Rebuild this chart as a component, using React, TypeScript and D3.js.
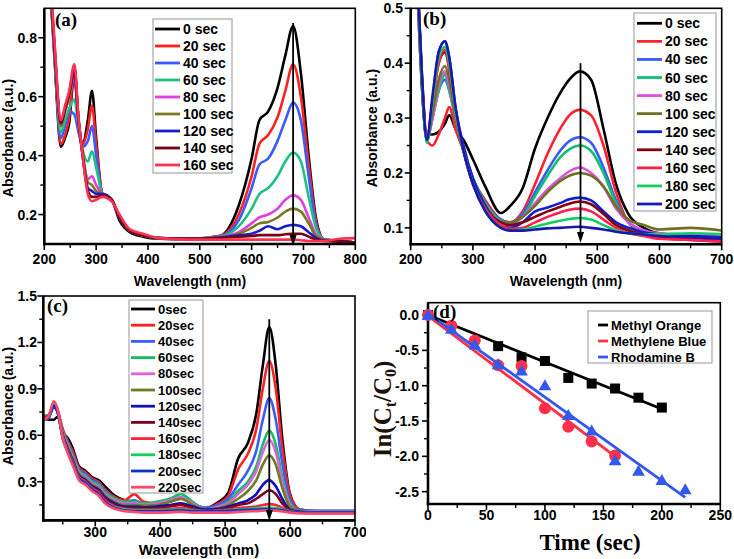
import React from 'react';
import * as d3 from 'd3';

// ---------------- Panel (a) data ----------------
const aWave = [212, 220, 232, 240, 248, 258, 266, 274, 284, 292, 300, 312, 330, 345, 365, 390, 420, 480, 540, 575, 600, 615, 632, 650, 665, 680, 695, 710, 725, 740, 770, 800];
const a0 = [0.95, 0.72, 0.43, 0.46, 0.51, 0.68, 0.50, 0.44, 0.52, 0.62, 0.46, 0.27, 0.25, 0.18, 0.14, 0.125, 0.118, 0.116, 0.128, 0.23, 0.39, 0.52, 0.55, 0.63, 0.74, 0.84, 0.68, 0.40, 0.18, 0.115, 0.11, 0.105];
const a20 = [0.97, 0.74, 0.44, 0.47, 0.53, 0.70, 0.52, 0.44, 0.49, 0.57, 0.44, 0.27, 0.25, 0.19, 0.145, 0.13, 0.12, 0.118, 0.128, 0.2, 0.33, 0.44, 0.47, 0.53, 0.62, 0.71, 0.6, 0.37, 0.17, 0.115, 0.11, 0.105];
const a40 = [0.96, 0.73, 0.46, 0.5, 0.55, 0.54, 0.48, 0.43, 0.45, 0.50, 0.40, 0.27, 0.25, 0.19, 0.145, 0.13, 0.12, 0.118, 0.126, 0.18, 0.29, 0.37, 0.39, 0.45, 0.52, 0.58, 0.52, 0.33, 0.16, 0.115, 0.11, 0.105];
const a60 = [0.96, 0.74, 0.48, 0.52, 0.56, 0.59, 0.50, 0.42, 0.38, 0.415, 0.36, 0.27, 0.25, 0.19, 0.145, 0.13, 0.12, 0.118, 0.125, 0.16, 0.22, 0.27, 0.29, 0.33, 0.38, 0.41, 0.38, 0.26, 0.15, 0.115, 0.11, 0.105];
const a80 = [0.97, 0.75, 0.5, 0.55, 0.6, 0.66, 0.52, 0.41, 0.32, 0.33, 0.3, 0.27, 0.25, 0.19, 0.145, 0.13, 0.12, 0.118, 0.124, 0.14, 0.17, 0.19, 0.2, 0.22, 0.25, 0.265, 0.25, 0.19, 0.13, 0.115, 0.11, 0.105];
const a100 = [0.97, 0.75, 0.5, 0.55, 0.6, 0.67, 0.52, 0.41, 0.31, 0.30, 0.28, 0.27, 0.25, 0.19, 0.145, 0.13, 0.12, 0.118, 0.123, 0.135, 0.155, 0.17, 0.175, 0.19, 0.21, 0.22, 0.21, 0.17, 0.125, 0.115, 0.11, 0.105];
const a120 = [0.98, 0.76, 0.51, 0.56, 0.61, 0.68, 0.52, 0.40, 0.29, 0.28, 0.27, 0.27, 0.25, 0.19, 0.145, 0.13, 0.12, 0.118, 0.122, 0.13, 0.135, 0.145, 0.16, 0.15, 0.16, 0.165, 0.16, 0.14, 0.12, 0.112, 0.11, 0.105];
const a140 = [0.98, 0.76, 0.51, 0.56, 0.61, 0.70, 0.52, 0.40, 0.28, 0.26, 0.26, 0.265, 0.25, 0.19, 0.145, 0.13, 0.12, 0.118, 0.12, 0.125, 0.127, 0.13, 0.13, 0.13, 0.133, 0.135, 0.135, 0.125, 0.115, 0.11, 0.108, 0.105];
const a160 = [1.0, 0.78, 0.52, 0.57, 0.62, 0.71, 0.53, 0.40, 0.27, 0.245, 0.25, 0.26, 0.245, 0.2, 0.15, 0.135, 0.12, 0.115, 0.115, 0.115, 0.115, 0.115, 0.115, 0.115, 0.115, 0.115, 0.113, 0.11, 0.11, 0.11, 0.118, 0.12];
const aSeries = [a0, a20, a40, a60, a80, a100, a120, a140, a160];
const aLabels = ['0 sec', '20 sec', '40 sec', '60 sec', '80 sec', '100 sec', '120 sec', '140 sec', '160 sec'];
const aColors = ['#000000', '#ff2020', '#3a5cff', '#20c080', '#e040e0', '#7a7a20', '#1a1ad0', '#7a0010', '#ff3050'];
const aXTicks = [200, 300, 400, 500, 600, 700, 800];
const aXMinor = [250, 350, 450, 550, 650, 750];
const aYTicks = [0.2, 0.4, 0.6, 0.8];
const aYMinor = [0.3, 0.5, 0.7];
const aArrowAt = 680;
const aArrowFrom = 0.85;

// ---------------- Panel (b) data ----------------
const bWave = [212, 218, 226, 235, 245, 255, 262, 272, 285, 300, 320, 345, 360, 380, 400, 420, 440, 455, 472, 490, 510, 530, 550, 575, 600, 650, 700];
const b0 = [0.52, 0.38, 0.27, 0.27, 0.275, 0.29, 0.305, 0.28, 0.26, 0.225, 0.175, 0.127, 0.14, 0.172, 0.245, 0.30, 0.345, 0.37, 0.385, 0.37, 0.28, 0.18, 0.125, 0.1, 0.09, 0.085, 0.082];
const b20 = [0.52, 0.36, 0.26, 0.25, 0.27, 0.30, 0.32, 0.28, 0.24, 0.19, 0.15, 0.115, 0.11, 0.13, 0.18, 0.235, 0.28, 0.305, 0.315, 0.305, 0.25, 0.165, 0.11, 0.09, 0.085, 0.08, 0.078];
const b40 = [0.5, 0.36, 0.265, 0.3, 0.35, 0.37, 0.35, 0.3, 0.24, 0.19, 0.145, 0.115, 0.11, 0.125, 0.165, 0.205, 0.24, 0.258, 0.265, 0.255, 0.21, 0.15, 0.11, 0.095, 0.088, 0.085, 0.082];
const b60 = [0.5, 0.36, 0.26, 0.3, 0.35, 0.38, 0.35, 0.3, 0.24, 0.19, 0.145, 0.112, 0.108, 0.12, 0.158, 0.195, 0.228, 0.243, 0.25, 0.24, 0.2, 0.145, 0.11, 0.095, 0.088, 0.088, 0.085];
const b80 = [0.5, 0.36, 0.26, 0.3, 0.36, 0.385, 0.36, 0.3, 0.24, 0.185, 0.14, 0.11, 0.108, 0.12, 0.145, 0.17, 0.19, 0.203, 0.21, 0.2, 0.175, 0.135, 0.11, 0.095, 0.09, 0.088, 0.085];
const b100 = [0.5, 0.36, 0.26, 0.31, 0.37, 0.395, 0.37, 0.3, 0.24, 0.185, 0.14, 0.11, 0.11, 0.12, 0.14, 0.165, 0.185, 0.195, 0.2, 0.195, 0.175, 0.14, 0.115, 0.105, 0.097, 0.1, 0.095];
const b120 = [0.52, 0.37, 0.26, 0.33, 0.42, 0.44, 0.41, 0.32, 0.25, 0.19, 0.14, 0.105, 0.1, 0.11, 0.13, 0.137, 0.145, 0.152, 0.155, 0.15, 0.13, 0.11, 0.1, 0.092, 0.088, 0.085, 0.083];
const b140 = [0.52, 0.37, 0.26, 0.33, 0.4, 0.42, 0.39, 0.31, 0.24, 0.18, 0.135, 0.11, 0.105, 0.11, 0.12, 0.13, 0.138, 0.144, 0.148, 0.143, 0.125, 0.105, 0.095, 0.088, 0.082, 0.078, 0.075];
const b160 = [0.52, 0.37, 0.26, 0.33, 0.4, 0.425, 0.39, 0.31, 0.24, 0.18, 0.135, 0.105, 0.098, 0.1, 0.11, 0.12, 0.128, 0.133, 0.135, 0.13, 0.115, 0.1, 0.09, 0.085, 0.08, 0.078, 0.075];
const b180 = [0.52, 0.37, 0.255, 0.33, 0.41, 0.43, 0.4, 0.31, 0.24, 0.18, 0.13, 0.1, 0.095, 0.097, 0.102, 0.108, 0.113, 0.116, 0.118, 0.115, 0.105, 0.095, 0.09, 0.088, 0.088, 0.09, 0.088];
const b200 = [0.53, 0.38, 0.26, 0.34, 0.42, 0.44, 0.41, 0.32, 0.24, 0.18, 0.13, 0.1, 0.095, 0.095, 0.097, 0.099, 0.1, 0.101, 0.102, 0.1, 0.097, 0.093, 0.09, 0.088, 0.085, 0.083, 0.08];
const bSeries = [b0, b20, b40, b60, b80, b100, b120, b140, b160, b180, b200];
const bLabels = ['0 sec', '20 sec', '40 sec', '60 sec', '80 sec', '100 sec', '120 sec', '140 sec', '160 sec', '180 sec', '200 sec'];
const bColors = ['#000000', '#ff2030', '#3a5cff', '#10c070', '#e050e0', '#707020', '#1020d0', '#800010', '#ff2050', '#10d060', '#1818b0'];
const bXTicks = [200, 300, 400, 500, 600, 700];
const bXMinor = [250, 350, 450, 550, 650];
const bYTicks = [0.1, 0.2, 0.3, 0.4, 0.5];
const bYMinor = [0.15, 0.25, 0.35, 0.45];
const bArrowAt = 473;
const bArrowFrom = 0.4;

// ---------------- Panel (c) data ----------------
const cWave = [220, 228, 236, 242, 250, 258, 265, 275, 285, 295, 305, 315, 330, 345, 360, 375, 395, 415, 432, 450, 470, 490, 505, 520, 535, 548, 558, 568, 578, 588, 600, 615, 640, 700];
const c0 = [0.72, 0.70, 0.70, 0.72, 0.62, 0.58, 0.52, 0.40, 0.37, 0.33, 0.31, 0.27, 0.21, 0.18, 0.17, 0.15, 0.14, 0.145, 0.155, 0.14, 0.13, 0.17, 0.23, 0.45, 0.55, 0.74, 1.05, 1.30, 1.05, 0.58, 0.22, 0.12, 0.11, 0.11];
const c20 = [0.73, 0.72, 0.78, 0.76, 0.64, 0.56, 0.50, 0.39, 0.36, 0.32, 0.30, 0.25, 0.20, 0.18, 0.22, 0.17, 0.16, 0.17, 0.19, 0.16, 0.13, 0.16, 0.21, 0.38, 0.48, 0.64, 0.90, 1.08, 0.90, 0.52, 0.21, 0.12, 0.11, 0.11];
const c40 = [0.72, 0.72, 0.78, 0.76, 0.62, 0.55, 0.48, 0.38, 0.35, 0.31, 0.29, 0.24, 0.19, 0.17, 0.18, 0.16, 0.16, 0.18, 0.20, 0.16, 0.13, 0.15, 0.19, 0.28, 0.37, 0.50, 0.70, 0.84, 0.70, 0.42, 0.18, 0.115, 0.11, 0.11];
const c60 = [0.72, 0.73, 0.80, 0.76, 0.62, 0.54, 0.47, 0.37, 0.34, 0.30, 0.28, 0.23, 0.19, 0.17, 0.17, 0.16, 0.17, 0.19, 0.22, 0.17, 0.12, 0.14, 0.17, 0.24, 0.30, 0.40, 0.54, 0.63, 0.54, 0.33, 0.16, 0.11, 0.105, 0.105];
const c80 = [0.72, 0.73, 0.80, 0.76, 0.61, 0.53, 0.46, 0.36, 0.33, 0.29, 0.27, 0.22, 0.18, 0.16, 0.16, 0.15, 0.16, 0.18, 0.20, 0.16, 0.12, 0.14, 0.16, 0.22, 0.28, 0.37, 0.49, 0.57, 0.49, 0.30, 0.15, 0.11, 0.105, 0.105];
const c100 = [0.72, 0.73, 0.80, 0.76, 0.60, 0.52, 0.45, 0.35, 0.32, 0.28, 0.26, 0.21, 0.17, 0.15, 0.15, 0.145, 0.15, 0.17, 0.19, 0.15, 0.12, 0.13, 0.15, 0.19, 0.24, 0.31, 0.41, 0.47, 0.41, 0.26, 0.14, 0.11, 0.10, 0.10];
const c120 = [0.71, 0.72, 0.79, 0.75, 0.60, 0.51, 0.44, 0.34, 0.31, 0.27, 0.25, 0.20, 0.16, 0.14, 0.14, 0.135, 0.14, 0.15, 0.16, 0.14, 0.12, 0.125, 0.14, 0.16, 0.18, 0.22, 0.28, 0.31, 0.27, 0.19, 0.12, 0.105, 0.10, 0.10];
const c140 = [0.71, 0.72, 0.79, 0.75, 0.59, 0.50, 0.43, 0.33, 0.30, 0.26, 0.24, 0.19, 0.15, 0.13, 0.13, 0.13, 0.13, 0.14, 0.15, 0.13, 0.11, 0.12, 0.13, 0.15, 0.16, 0.19, 0.22, 0.245, 0.22, 0.16, 0.115, 0.10, 0.10, 0.10];
const c160 = [0.71, 0.72, 0.80, 0.76, 0.59, 0.50, 0.43, 0.33, 0.30, 0.26, 0.23, 0.18, 0.14, 0.125, 0.12, 0.12, 0.12, 0.125, 0.13, 0.12, 0.11, 0.115, 0.12, 0.13, 0.135, 0.14, 0.15, 0.155, 0.15, 0.13, 0.11, 0.10, 0.095, 0.095];
const c180 = [0.70, 0.71, 0.80, 0.76, 0.58, 0.49, 0.42, 0.32, 0.29, 0.25, 0.22, 0.17, 0.135, 0.12, 0.115, 0.115, 0.115, 0.118, 0.12, 0.115, 0.11, 0.112, 0.115, 0.12, 0.125, 0.128, 0.13, 0.132, 0.13, 0.12, 0.108, 0.10, 0.10, 0.10];
const c200 = [0.70, 0.71, 0.79, 0.75, 0.58, 0.49, 0.42, 0.32, 0.29, 0.25, 0.22, 0.17, 0.13, 0.115, 0.11, 0.11, 0.11, 0.112, 0.115, 0.11, 0.11, 0.11, 0.112, 0.115, 0.118, 0.12, 0.122, 0.123, 0.12, 0.115, 0.105, 0.10, 0.10, 0.10];
const c220 = [0.70, 0.72, 0.82, 0.77, 0.58, 0.48, 0.41, 0.31, 0.28, 0.24, 0.21, 0.16, 0.125, 0.11, 0.105, 0.10, 0.10, 0.102, 0.105, 0.10, 0.10, 0.10, 0.10, 0.105, 0.108, 0.11, 0.113, 0.115, 0.113, 0.108, 0.10, 0.095, 0.095, 0.095];
const cSeries = [c0, c20, c40, c60, c80, c100, c120, c140, c160, c180, c200, c220];
const cLabels = ['0sec', '20sec', '40sec', '60sec', '80sec', '100sec', '120sec', '140sec', '160sec', '180sec', '200sec', '220sec'];
const cColors = ['#000000', '#ff2020', '#3a5cff', '#10c060', '#e060e0', '#6a8020', '#1010c0', '#800020', '#ff2040', '#10d060', '#1030d0', '#ff4a6a'];
const cXTicks = [300, 400, 500, 600, 700];
const cXMinor = [250, 350, 450, 550, 650];
const cYTicks = [0.3, 0.6, 0.9, 1.2, 1.5];
const cYMinor = [0.15, 0.45, 0.75, 1.05, 1.35];
const cArrowAt = 568;
const cArrowFrom = 1.35;

// ---------------- Panel (d) data ----------------
const moTime = [0, 60, 80, 100, 120, 140, 160, 180, 200];
const moVal = [0, -0.44, -0.6, -0.65, -0.89, -0.97, -1.04, -1.17, -1.31];
const mbTime = [0, 20, 40, 60, 80, 100, 120, 140, 160];
const mbVal = [0, -0.15, -0.36, -0.71, -0.72, -1.32, -1.58, -1.79, -1.99];
const rbTime = [0, 20, 40, 60, 80, 100, 120, 140, 160, 180, 200, 220];
const rbVal = [0, -0.2, -0.42, -0.7, -0.79, -1.0, -1.42, -1.64, -2.06, -2.21, -2.34, -2.47];
const moFitT = [0, 200];
const moFitV = [0.0, -1.33];
const mbFitT = [0, 160];
const mbFitV = [-0.01, -2.0];
const rbFitT = [0, 220];
const rbFitV = [0.02, -2.58];
const dLabels = ['Methyl Orange', 'Methylene Blue', 'Rhodamine B'];
const dColors = ['#000000', '#ff3048', '#3358ee'];
const dXTicks = [0, 50, 100, 150, 200, 250];
const dXMinor = [25, 75, 125, 175, 225];
const dYTicks = [0, -0.5, -1.0, -1.5, -2.0, -2.5];
const dYMinor = [-0.25, -0.75, -1.25, -1.75, -2.25];

const SANS = "'Liberation Sans', Arial, Helvetica, sans-serif";
const SERIF = "'Liberation Serif', 'Times New Roman', serif";

type Lin = d3.ScaleLinear<number, number>;

function Axes(props: {
  xs: Lin; ys: Lin; xTicks: number[]; xMinor: number[]; yTicks: number[]; yMinor: number[];
  xFmt: (v: number) => string; yFmt: (v: number) => string; xLabY: number; yLabX: number; fs?: number; clip?: string;
}) {
  const { xs, ys, xTicks, xMinor, yTicks, yMinor, xFmt, yFmt, xLabY, yLabX } = props;
  const fs = props.fs ?? 14;
  const [x0, x1] = xs.range();
  const [y1, y0] = ys.range();
  return (
    <g>
      <rect x={x0} y={y0} width={x1 - x0} height={y1 - y0} fill="none" stroke="#000" strokeWidth={1.6} />
      <line x1={x0} x2={x0} y1={y0} y2={y1 + 1.2} stroke="#000" strokeWidth={2.6} />
      <line x1={x0 - 1.2} x2={x1} y1={y1} y2={y1} stroke="#000" strokeWidth={2.6} />
      {xTicks.map((t) => (
        <line key={'xt' + t} x1={xs(t)} x2={xs(t)} y1={y1} y2={y1 + 6} stroke="#000" strokeWidth={1.6} />
      ))}
      {xMinor.map((t) => (
        <line key={'xm' + t} x1={xs(t)} x2={xs(t)} y1={y1} y2={y1 + 4} stroke="#000" strokeWidth={1.4} />
      ))}
      {yTicks.map((t) => (
        <line key={'yt' + t} x1={x0} x2={x0 - 6} y1={ys(t)} y2={ys(t)} stroke="#000" strokeWidth={1.6} />
      ))}
      {yMinor.map((t) => (
        <line key={'ym' + t} x1={x0} x2={x0 - 4} y1={ys(t)} y2={ys(t)} stroke="#000" strokeWidth={1.4} />
      ))}
      <g clipPath={props.clip ? `url(#${props.clip})` : undefined}>
        {xTicks.map((t) => (
          <text key={'xl' + t} x={xs(t)} y={xLabY} textAnchor="middle" fontFamily={SANS} fontWeight="bold" fontSize={fs}>
            {xFmt(t)}
          </text>
        ))}
      </g>
      {yTicks.map((t) => (
        <text key={'yl' + t} x={yLabX} y={ys(t)} dy="0.36em" textAnchor="end" fontFamily={SANS} fontWeight="bold" fontSize={fs}>
          {yFmt(t)}
        </text>
      ))}
    </g>
  );
}

function Spectra(props: { id: string; xs: Lin; ys: Lin; wave: number[]; series: number[][]; colors: string[] }) {
  const { id, xs, ys, wave, series, colors } = props;
  const [x0, x1] = xs.range();
  const [y1, y0] = ys.range();
  const line = d3
    .line<number>()
    .x((_, i) => xs(wave[i]))
    .y((d) => ys(d))
    .curve(d3.curveMonotoneX);
  return (
    <g>
      <clipPath id={id}>
        <rect x={x0} y={y0} width={x1 - x0} height={y1 - y0} />
      </clipPath>
      <g clipPath={`url(#${id})`}>
        {series.map((s, i) => (
          <path key={i} d={line(s) || ''} fill="none" stroke={colors[i]} strokeWidth={2.6} strokeLinejoin="round" />
        ))}
      </g>
    </g>
  );
}

function Legend(props: {
  x: number; y: number; w: number; h: number; firstY: number; step: number; lx0: number; lx1: number; tx: number;
  labels: string[]; colors: string[]; fs: number;
}) {
  const p = props;
  return (
    <g>
      <rect x={p.x} y={p.y} width={p.w} height={p.h} fill="#fff" stroke="#a8a8a8" strokeWidth={1.2} />
      {p.labels.map((l, i) => {
        const yy = p.firstY + p.step * i;
        return (
          <g key={l}>
            <line x1={p.lx0} x2={p.lx1} y1={yy} y2={yy} stroke={p.colors[i]} strokeWidth={2.8} />
            <text x={p.tx} y={yy} dy="0.36em" fontFamily={SANS} fontWeight="bold" fontSize={p.fs}>
              {l}
            </text>
          </g>
        );
      })}
    </g>
  );
}

function Arrow(props: { x: number; yTop: number; yTip: number }) {
  const { x, yTop, yTip } = props;
  return (
    <g>
      <line x1={x} x2={x} y1={yTop} y2={yTip - 8} stroke="#000" strokeWidth={1.8} />
      <path d={`M${x - 3.5},${yTip - 11} L${x + 3.5},${yTip - 11} L${x},${yTip} Z`} fill="#000" />
    </g>
  );
}

const f1 = (v: number) => v.toFixed(1);
const f0 = (v: number) => String(v);

export default function App() {
  // panel a
  const axs = d3.scaleLinear().domain([200, 800]).range([44.3, 355.3]);
  const ays = d3.scaleLinear().domain([0.1, 0.9]).range([244, 8.3]);
  // panel b
  const bxs = d3.scaleLinear().domain([200, 700]).range([410.7, 721.7]);
  const bys = d3.scaleLinear().domain([0.07, 0.5]).range([244.3, 8.3]);
  // panel c
  const cxs = d3.scaleLinear().domain([220, 700]).range([43.3, 355]);
  const cys = d3.scaleLinear().domain([0.05, 1.5]).range([520.4, 296]);
  // panel d
  const dxs = d3.scaleLinear().domain([0, 250]).range([428, 720.3]);
  const dys = d3.scaleLinear().domain([-2.675, 0.175]).range([504, 302.7]);

  const fitLine = (ts: number[], vs: number[]) =>
    d3.line<number>().x((_, i) => dxs(ts[i])).y((d) => dys(d))(vs) || '';
  const tri = d3.symbol(d3.symbolTriangle, 70)() || '';

  return (
    <svg width={734} height={559} style={{ position: 'absolute', left: 0, top: 0, background: '#fff' }}>
      <rect x={0} y={0} width={734} height={559} fill="#fff" />
      <defs>
        <clipPath id="cclip">
          <rect x={0} y={500} width={366} height={59} />
        </clipPath>
      </defs>

      {/* ---------- (a) ---------- */}
      <Spectra id="aclip" xs={axs} ys={ays} wave={aWave} series={aSeries} colors={aColors} />
      <Arrow x={axs(aArrowAt)} yTop={ays(aArrowFrom)} yTip={246} />
      <Axes xs={axs} ys={ays} xTicks={aXTicks} xMinor={aXMinor} yTicks={aYTicks} yMinor={aYMinor} xFmt={f0} yFmt={f1} xLabY={264} yLabX={37} />
      <Legend x={153} y={19} w={79} h={154} firstY={29} step={17} lx0={155} lx1={180} tx={183} labels={aLabels} colors={aColors} fs={14} />
      <text x={55} y={26} fontFamily={SERIF} fontWeight="bold" fontSize={19}>(a)</text>
      <text transform="translate(13,138) rotate(-90)" textAnchor="middle" fontFamily={SANS} fontWeight="bold" fontSize={14}>Absorbance (a.u.)</text>
      <text x={190} y={286} textAnchor="middle" fontFamily={SANS} fontWeight="bold" fontSize={14}>Wavelength (nm)</text>

      {/* ---------- (b) ---------- */}
      <Spectra id="bclip" xs={bxs} ys={bys} wave={bWave} series={bSeries} colors={bColors} />
      <Arrow x={bxs(bArrowAt)} yTop={bys(bArrowFrom)} yTip={243} />
      <Axes xs={bxs} ys={bys} xTicks={bXTicks} xMinor={bXMinor} yTicks={bYTicks} yMinor={bYMinor} xFmt={f0} yFmt={f1} xLabY={264} yLabX={403} />
      <Legend x={634} y={13} w={82} h={198} firstY={23.3} step={18.07} lx0={637} lx1={662} tx={665} labels={bLabels} colors={bColors} fs={14} />
      <text x={423} y={25} fontFamily={SERIF} fontWeight="bold" fontSize={19}>(b)</text>
      <text transform="translate(377,128) rotate(-90)" textAnchor="middle" fontFamily={SANS} fontWeight="bold" fontSize={14}>Absorbance (a.u.)</text>
      <text x={566} y={286} textAnchor="middle" fontFamily={SANS} fontWeight="bold" fontSize={14}>Wavelength (nm)</text>

      {/* ---------- (c) ---------- */}
      <Spectra id="cclip2" xs={cxs} ys={cys} wave={cWave} series={cSeries} colors={cColors} />
      <Arrow x={cxs(cArrowAt)} yTop={cys(cArrowFrom)} yTip={521} />
      <Axes xs={cxs} ys={cys} xTicks={cXTicks} xMinor={cXMinor} yTicks={cYTicks} yMinor={cYMinor} xFmt={f0} yFmt={f1} xLabY={537} yLabX={37} clip="cclip" />
      <Legend x={129} y={300} w={74} h={193} firstY={309} step={16.2} lx0={131} lx1={155} tx={158} labels={cLabels} colors={cColors} fs={13} />
      <text x={47} y={312} fontFamily={SERIF} fontWeight="bold" fontSize={19}>(c)</text>
      <text transform="translate(13,406) rotate(-90)" textAnchor="middle" fontFamily={SANS} fontWeight="bold" fontSize={14}>Absorbance (a.u.)</text>
      <text x={199} y={555} textAnchor="middle" fontFamily={SANS} fontWeight="bold" fontSize={15}>Wavelength (nm)</text>

      {/* ---------- (d) ---------- */}
      <Axes xs={dxs} ys={dys} xTicks={dXTicks} xMinor={dXMinor} yTicks={dYTicks} yMinor={dYMinor} xFmt={f0} yFmt={f1} xLabY={520} yLabX={419} />
      <path d={fitLine(moFitT, moFitV)} stroke={dColors[0]} strokeWidth={2.8} fill="none" />
      {moTime.map((t, i) => (
        <rect key={'mo' + t} x={dxs(t) - 5} y={dys(moVal[i]) - 5} width={10} height={10} fill={dColors[0]} />
      ))}
      <path d={fitLine(mbFitT, mbFitV)} stroke={dColors[1]} strokeWidth={2.8} fill="none" />
      {mbTime.map((t, i) => (
        <circle key={'mb' + t} cx={dxs(t)} cy={dys(mbVal[i])} r={6} fill={dColors[1]} />
      ))}
      <path d={fitLine(rbFitT, rbFitV)} stroke={dColors[2]} strokeWidth={2.8} fill="none" />
      {rbTime.map((t, i) => (
        <path key={'rb' + t} d={tri} transform={`translate(${dxs(t)},${dys(rbVal[i]) + 1})`} fill={dColors[2]} />
      ))}
      <Legend x={588} y={311} w={124} h={52} firstY={325} step={16} lx0={598} lx1={608} tx={611} labels={dLabels} colors={dColors} fs={13} />
      <text x={433} y={318} fontFamily={SERIF} fontWeight="bold" fontSize={19}>(d)</text>
      <text transform="translate(391,409) rotate(-90)" textAnchor="middle" fontFamily={SERIF} fontWeight="bold" fontSize={25} fill="#1e1208">
        <tspan>In(C</tspan>
        <tspan fontSize={16} dy={5}>t</tspan>
        <tspan dy={-5}>/C</tspan>
        <tspan fontSize={16} dy={5}>0</tspan>
        <tspan dy={-5}>)</tspan>
      </text>
      <text x={590} y={550} textAnchor="middle" fontFamily={SERIF} fontWeight="bold" fontSize={23}>Time (sec)</text>
    </svg>
  );
}
